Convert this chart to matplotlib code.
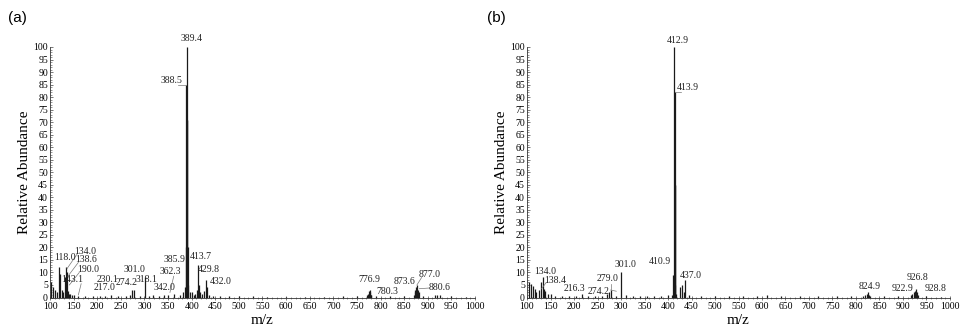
import matplotlib.pyplot as plt
from matplotlib.ticker import MultipleLocator

# panel (a) spectrum: m/z and relative abundance of the sticks
a_mz = [103, 106, 110, 114, 118.0, 121, 125, 128, 131, 134.0, 136, 138.6, 141, 143.1, 147, 150,
        160, 175, 190.0, 205, 217.0, 230.1, 245, 260, 270, 274.2, 278, 290, 301.0, 310, 318.1,
        330, 342.0, 350, 362.3, 375, 382, 385.9, 387.5, 388.5, 389.4, 390.0, 390.6, 391.5, 393,
        396, 400, 404, 408, 411, 413.7, 415, 418, 422, 426, 429.8, 432.0, 436, 445, 460, 480,
        500, 530, 560, 600, 640, 680, 720, 750, 772, 774, 775.5, 776.9, 778, 779.5, 780.3, 790,
        820, 850, 870, 872, 873.6, 875, 877.0, 878.5, 880.6, 890, 915, 920, 925, 950, 980]
a_int = [6, 4, 3, 2, 12, 9.5, 3, 2, 8, 12, 10, 2.5, 1.5, 1.5, 1, 1,
         0.5, 0.4, 0.5, 0.4, 0.6, 0.8, 0.5, 0.6, 0.8, 3, 3, 0.6, 8, 0.6, 1,
         0.5, 1, 0.8, 1.5, 1, 2, 4, 20, 85, 100, 71, 71, 20, 5,
         2, 2, 1, 1.5, 3, 13, 5, 2, 1.5, 2.5, 7, 4, 1, 0.5, 0.4, 0.4,
         0.4, 0.4, 0.3, 0.3, 0.3, 0.3, 0.4, 0.4, 1, 1.5, 2.5, 3, 2, 1, 0.8, 0.4,
         0.4, 0.5, 1, 2, 3, 4, 5, 3, 2, 0.5, 0.8, 1, 0.8, 0.4, 0.3]
a_labels = ['389.4', '388.5', '118.0', '134.0', '138.6', '190.0', '143.1', '230.1', '217.0',
            '274.2', '301.0', '318.1', '342.0', '362.3', '385.9', '413.7', '429.8', '432.0',
            '776.9', '780.3', '873.6', '877.0', '880.6']

# panel (b) spectrum
b_mz = [104, 108, 112, 116, 120, 125, 130, 134.0, 136, 138.4, 145, 151, 160, 175, 190, 205,
        216.3, 230, 245, 260, 270, 274.2, 279.0, 290, 301.0, 310, 325, 340, 355, 370, 385, 400,
        408, 410.9, 412.9, 413.9, 414.3, 414.8, 415.5, 418, 425, 430, 433, 437.0, 445, 470, 500,
        530, 560, 590, 610, 640, 680, 720, 760, 790, 815, 820, 822.5, 824.9, 827, 830, 860, 890,
        918, 920, 922.9, 924.5, 926.8, 928.8, 931, 950, 980]
b_int = [6, 5.5, 4.5, 3.5, 2, 3, 6, 8, 3.5, 2.5, 1.5, 1.5, 0.5, 0.5, 0.5, 0.6,
         1.5, 0.6, 0.5, 0.6, 1.5, 2, 3, 0.6, 10, 0.8, 0.6, 0.6, 0.6, 0.5, 0.6, 0.8,
         1, 9, 100, 82, 45, 45, 5, 1.5, 4, 5, 2, 7, 0.8, 0.5, 0.5,
         0.5, 0.5, 0.4, 0.8, 0.5, 0.4, 0.4, 0.5, 0.4, 0.6, 1, 1.5, 2, 1, 0.6, 0.5, 0.5,
         1, 1.5, 2, 2.5, 3.5, 2, 1, 0.4, 0.3]
b_labels = ['412.9', '413.9', '134.0', '138.4', '216.3', '274.2', '279.0', '301.0', '410.9',
            '437.0', '824.9', '922.9', '926.8', '928.8']

# label positions (x, y in data units) and leader lines (x0, y0, x1, y1)
a_pos = [(399, 103.5), (357, 86.5), (131, 16), (175, 18.5), (177, 15), (181, 11), (146, 7.3),
         (222, 7.3), (215, 3.8), (263, 5.8), (280, 11), (304, 7), (342, 3.8), (354, 10.3),
         (363, 15), (420, 16.5), (437, 11.3), (461, 6.3), (776, 7), (815, 2.3), (850, 6.3),
         (903, 9.3), (924, 3.8)]
a_lead = {'388.5': (372, 85, 389, 85), '134.0': (158, 17.5, 136, 11.5),
          '138.6': (160, 14, 138, 8.5), '190.0': (162, 10, 141, 5),
          '143.1': (166, 5.5, 160, 1), '362.3': (362, 8.5, 354, 2),
          '877.0': (887, 8, 877, 5), '880.6': (904, 3.8, 882, 3.5)}
b_pos = [(420, 102.5), (443, 84), (138, 10.3), (160, 6.7), (200, 3.4), (253, 2.3), (271, 7.4),
         (309, 13), (383, 14.3), (448, 8.7), (828, 4.2), (898, 3.7), (930, 8), (970, 3.7)]
b_lead = {'413.9': (428, 82, 414, 82), '138.4': (141, 6, 131, 3.5),
          '279.0': (279, 5.5, 279, 3), '274.2': (290, 2.5, 278, 3)}

plt.rcParams['font.family'] = ['Liberation Serif', 'DejaVu Serif']

fig = plt.figure(figsize=(9.64, 3.29), dpi=100)
ax_a = fig.add_axes([50 / 964, 31.5 / 329, 425 / 964, 250.5 / 329])
ax_b = fig.add_axes([527 / 964, 31.5 / 329, 423 / 964, 250.5 / 329])


def draw(ax, mz, inten, labels, pos, lead):
    ax.vlines(mz, 0, inten, color='#1a1a1a', lw=0.9)
    for lab, (tx, ty) in zip(labels, pos):
        ax.text(tx, ty, lab, fontsize=7, ha='center', va='center', color='#222')
        if lab in lead:
            x0, y0, x1, y1 = lead[lab]
            ax.plot([x0, x1], [y0, y1], color='#777', lw=0.5)
    ax.set_xlim(100, 1000)
    ax.set_ylim(0, 100)
    ax.spines['top'].set_visible(False)
    ax.spines['right'].set_visible(False)
    for s in ['left', 'bottom']:
        ax.spines[s].set_linewidth(0.6)
        ax.spines[s].set_color('#333')
    ax.xaxis.set_major_locator(MultipleLocator(50))
    ax.xaxis.set_minor_locator(MultipleLocator(10))
    ax.yaxis.set_major_locator(MultipleLocator(5))
    ax.yaxis.set_minor_locator(MultipleLocator(1))
    ax.tick_params(axis='y', which='both', direction='in', labelsize=7, pad=1.5, color='#444')
    ax.tick_params(axis='y', which='major', length=2.5, width=0.5)
    ax.tick_params(axis='y', which='minor', length=1.2, width=0.4)
    ax.tick_params(axis='x', which='both', direction='inout', labelsize=7, pad=2, color='#444')
    ax.tick_params(axis='x', which='major', length=3, width=0.5)
    ax.tick_params(axis='x', which='minor', length=1.5, width=0.4)
    ax.set_ylabel('Relative Abundance', fontsize=11, labelpad=2)
    ax.set_xlabel('m/z', fontsize=11, labelpad=2)


draw(ax_a, a_mz, a_int, a_labels, a_pos, a_lead)
draw(ax_b, b_mz, b_int, b_labels, b_pos, b_lead)

fig.text(8 / 964, 1 - 18 / 329, '(a)', fontsize=11, family='Liberation Sans', va='center')
fig.text(487 / 964, 1 - 18 / 329, '(b)', fontsize=11, family='Liberation Sans', va='center')

plt.savefig('out.png', dpi=100)
